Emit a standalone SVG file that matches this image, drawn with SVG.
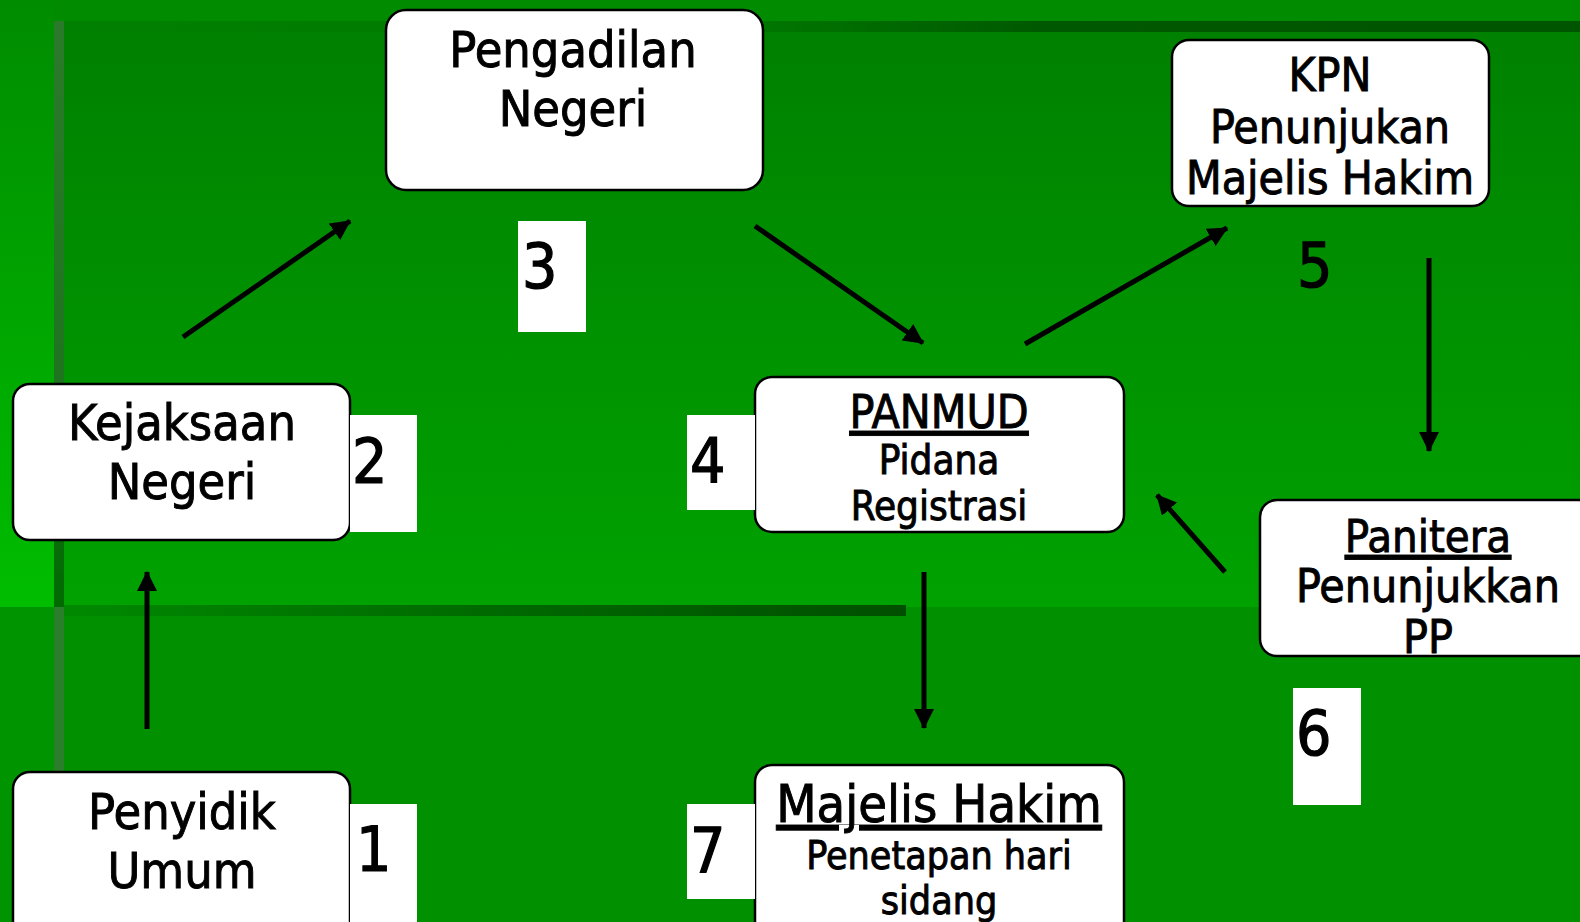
<svg xmlns="http://www.w3.org/2000/svg" width="1580" height="922" viewBox="0 0 1580 922">
<style>
.box{fill:#fff;stroke:#000;stroke-width:2.5}
.num{fill:#fff}
.t{font-family:"DejaVu Sans Condensed","DejaVu Sans",sans-serif;font-stretch:condensed;text-anchor:middle;fill:#000;stroke:#000;stroke-width:0.9}
.n{font-family:"DejaVu Sans Condensed","DejaVu Sans",sans-serif;font-stretch:condensed;font-size:62px;fill:#000;stroke:#000;stroke-width:1.2}
.u{text-decoration:underline}
.c{stroke:#000;stroke-width:5;fill:none;marker-end:url(#ah)}
</style>
<defs>
<marker id="ah" markerUnits="userSpaceOnUse" markerWidth="20" markerHeight="20" viewBox="0 0 18 18" refX="17" refY="9" orient="auto">
<path d="M0,0 L18,9 L0,18 Z" fill="#000"/>
</marker>
<linearGradient id="leftStrip" x1="0" y1="0" x2="0" y2="1">
<stop offset="0" stop-color="#008c00"/>
<stop offset="1" stop-color="#00bd00"/>
</linearGradient>
<linearGradient id="upper" x1="0" y1="0" x2="0" y2="1">
<stop offset="0" stop-color="#008000"/>
<stop offset="1" stop-color="#00a200"/>
</linearGradient>
<linearGradient id="topLine" x1="0" y1="0" x2="1" y2="0">
<stop offset="0" stop-color="#008000"/>
<stop offset="0.45" stop-color="#007800"/>
<stop offset="0.65" stop-color="#005800"/>
<stop offset="1" stop-color="#005500"/>
</linearGradient>
<linearGradient id="midLine" x1="0" y1="0" x2="1" y2="0">
<stop offset="0" stop-color="#008a00"/>
<stop offset="0.5" stop-color="#006a00"/>
<stop offset="1" stop-color="#004f00"/>
</linearGradient>
<linearGradient id="vLine" x1="0" y1="0" x2="0" y2="1">
<stop offset="0" stop-color="#2b7a2b"/>
<stop offset="0.6" stop-color="#1f7420"/>
<stop offset="1" stop-color="#006a00"/>
</linearGradient>
</defs>
<g id="background">
<rect x="0" y="0" width="1580" height="922" fill="#009000"/>
<rect x="0" y="0" width="1580" height="21" fill="#008b00"/>
<rect x="0" y="0" width="54" height="607" fill="url(#leftStrip)"/>
<rect x="0" y="607" width="54" height="315" fill="#009500"/>
<rect x="54" y="21" width="1526" height="586" fill="url(#upper)"/>
<rect x="54" y="21" width="1526" height="11" fill="url(#topLine)"/>
<rect x="54" y="605" width="852" height="11" fill="url(#midLine)"/>
<rect x="54" y="21" width="10" height="586" fill="url(#vLine)"/>
<rect x="54" y="607" width="10" height="315" fill="#2b7f2b"/>
</g>
<g id="connectors">
<line class="c" x1="147" y1="729" x2="147" y2="572"/>
<line class="c" x1="183" y1="337" x2="350" y2="221"/>
<line class="c" x1="755" y1="226" x2="923" y2="343"/>
<line class="c" x1="1025" y1="344" x2="1227" y2="228"/>
<line class="c" x1="1429" y1="258" x2="1429" y2="451"/>
<line class="c" x1="1225" y1="572" x2="1157" y2="495"/>
<line class="c" x1="924" y1="572" x2="924" y2="728"/>
</g>
<g id="node-penyidik">
<rect class="box" x="13" y="772" width="337" height="170" rx="17"/>
<text class="t" x="182" y="829" font-size="50">Penyidik</text>
<text class="t" x="182" y="888" font-size="50">Umum</text>
<rect class="num" x="350" y="804" width="67" height="118"/>
<text class="n" x="356" y="871">1</text>
</g>
<g id="node-kejaksaan">
<rect class="box" x="13" y="384" width="337" height="156" rx="17"/>
<text class="t" x="182" y="440" font-size="50">Kejaksaan</text>
<text class="t" x="182" y="499" font-size="50">Negeri</text>
<rect class="num" x="350" y="415" width="67" height="117"/>
<text class="n" x="352" y="483">2</text>
</g>
<g id="node-pengadilan">
<rect class="box" x="386" y="10" width="377" height="180" rx="20"/>
<text class="t" x="573" y="67" font-size="50">Pengadilan</text>
<text class="t" x="573" y="126" font-size="50">Negeri</text>
<rect class="num" x="518" y="221" width="68" height="111"/>
<text class="n" x="522" y="288">3</text>
</g>
<g id="node-panmud">
<rect class="box" x="755" y="377" width="369" height="155" rx="17"/>
<text class="t u" x="939" y="428" font-size="46">PANMUD</text>
<text class="t" x="939" y="474" font-size="40">Pidana</text>
<text class="t" x="939" y="520" font-size="40">Registrasi</text>
<rect class="num" x="687" y="415" width="68" height="95"/>
<text class="n" x="690" y="483">4</text>
</g>
<g id="node-kpn">
<rect class="box" x="1172" y="40" width="317" height="166" rx="17"/>
<text class="t" x="1330" y="91" font-size="46">KPN</text>
<text class="t" x="1330" y="143" font-size="46">Penunjukan</text>
<text class="t" x="1330" y="194" font-size="46">Majelis Hakim</text>
<text class="n" x="1297" y="287">5</text>
</g>
<g id="node-panitera">
<rect class="box" x="1260" y="500" width="340" height="156" rx="17"/>
<text class="t u" x="1428" y="552" font-size="45">Panitera</text>
<text class="t" x="1428" y="602" font-size="46">Penunjukkan</text>
<text class="t" x="1428" y="653" font-size="46">PP</text>
<rect class="num" x="1293" y="688" width="68" height="117"/>
<text class="n" x="1296" y="755">6</text>
</g>
<g id="node-majelis">
<rect class="box" x="755" y="765" width="369" height="175" rx="17"/>
<text class="t u" x="939" y="822" font-size="52">Majelis Hakim</text>
<text class="t" x="939" y="869" font-size="39">Penetapan hari</text>
<text class="t" x="939" y="914" font-size="39">sidang</text>
<rect class="num" x="687" y="804" width="68" height="95"/>
<text class="n" x="690" y="872">7</text>
</g>
</svg>
